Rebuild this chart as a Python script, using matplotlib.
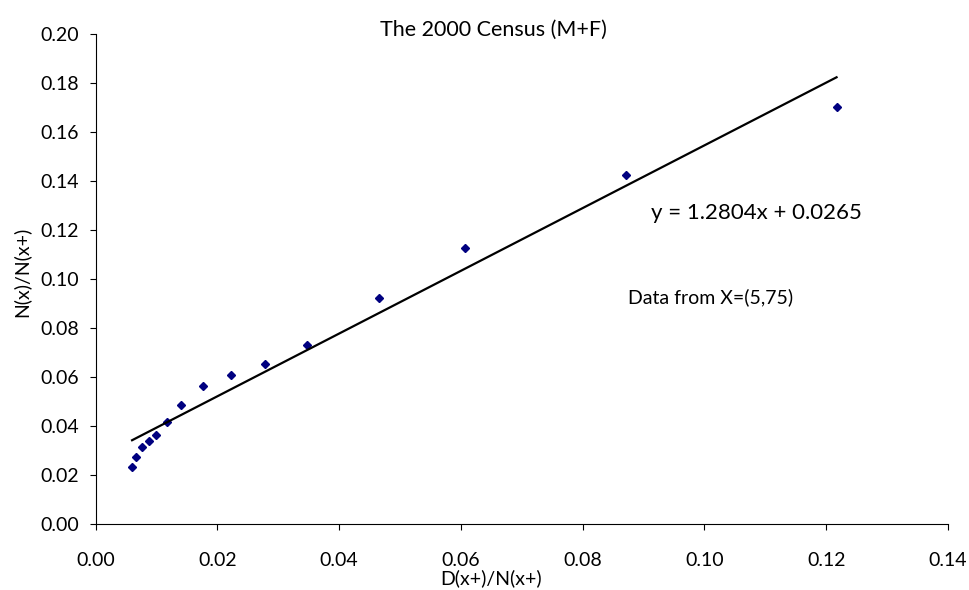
import matplotlib.pyplot as plt
import numpy as np

plt.rcParams['font.family'] = ['Lato', 'DejaVu Sans']

# data
dx_over_nx = [0.0060, 0.0067, 0.0076, 0.0087, 0.0099, 0.0117, 0.0140, 0.0176,
              0.0222, 0.0278, 0.0347, 0.0465, 0.0606, 0.0872, 0.1217]
nx_over_nx = [0.0233, 0.0274, 0.0316, 0.0340, 0.0363, 0.0416, 0.0486, 0.0563,
              0.0608, 0.0653, 0.0731, 0.0922, 0.1127, 0.1424, 0.1702]
slope = 1.2804
intercept = 0.0265

xticks = [0.00, 0.02, 0.04, 0.06, 0.08, 0.10, 0.12, 0.14]
yticks = [0.00, 0.02, 0.04, 0.06, 0.08, 0.10, 0.12, 0.14, 0.16, 0.18, 0.20]

fig = plt.figure(figsize=(9.69, 5.90), dpi=100)
ax = fig.add_axes([0.0986, 0.1119, 0.8797, 0.8305])

ax.plot(dx_over_nx, nx_over_nx, linestyle='none', marker='D', markersize=4.5,
        color='#000080')

xs = np.array([min(dx_over_nx), max(dx_over_nx)])
ax.plot(xs, slope * xs + intercept, color='black', linewidth=1.6)

ax.set_xlim(0, 0.14)
ax.set_ylim(0, 0.20)
ax.set_xticks(xticks)
ax.set_yticks(yticks)
ax.set_xticklabels([f"{t:.2f}" for t in xticks])
ax.set_yticklabels([f"{t:.2f}" for t in yticks])

for side in ['top', 'right']:
    ax.spines[side].set_visible(False)
for side in ['left', 'bottom']:
    ax.spines[side].set_linewidth(0.8)
ax.tick_params(axis='both', direction='out', length=4, width=0.8, labelsize=14)
ax.tick_params(axis='x', pad=16)
ax.tick_params(axis='y', pad=8)

fig.text(493 / 969, 1 - 30 / 590, "The 2000 Census (M+F)", ha='center',
         va='center', fontsize=15.5)
fig.text(491 / 969, 1 - 578 / 590, "D(x+)/N(x+)", ha='center', va='center',
         fontsize=14)
fig.text(21 / 969, 1 - 272 / 590, "N(x)/N(x+)", ha='center', va='center',
         fontsize=14, rotation=90)

ax.text(0.0912, 0.127, f"y = {slope}x + {intercept}", fontsize=16,
        ha='left', va='center')
ax.text(0.0875, 0.0925, "Data from X=(5,75)", fontsize=14,
        ha='left', va='center')

fig.savefig("out.png", dpi=100)
